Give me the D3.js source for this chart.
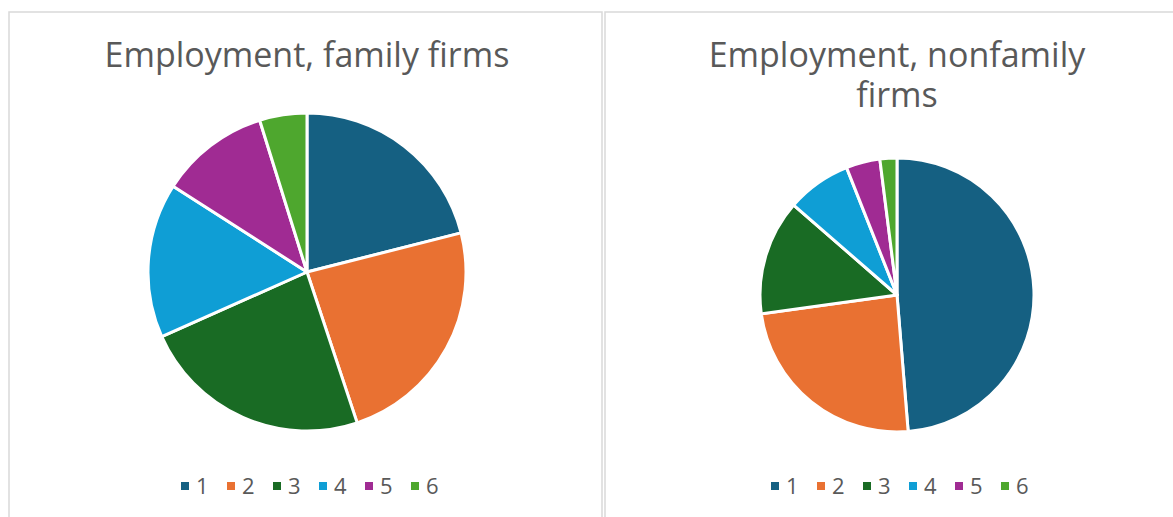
<!DOCTYPE html>
<html>
<head>
<meta charset="utf-8">
<script src="https://cdn.jsdelivr.net/npm/d3@7"></script>
<style>
  body { margin: 0; background: #fff; }
  svg { display: block; font-family: "Open Sans", "Noto Sans", sans-serif; }
</style>
</head>
<body>
<svg width="1173" height="517"></svg>
<script>
// --- data (share of employment, %) ---
const categories = ["1", "2", "3", "4", "5", "6"];
const familyValues = [21.0, 23.8, 23.4, 15.7, 11.1, 4.8];
const nonfamilyValues = [48.7, 24.1, 13.6, 7.6, 4.0, 2.0];
const colors = ["#156082", "#E97132", "#196B24", "#0F9ED5", "#A02B93", "#4EA72E"];

const panels = [
  { title: ["Employment, family firms"], values: familyValues,
    x: 9, cx: 307, cy: 272, r: 159, legendCx: 312 },
  { title: ["Employment, nonfamily", "firms"], values: nonfamilyValues,
    x: 605, cx: 897, cy: 295, r: 137, legendCx: 902 }
];

const svg = d3.select("svg");
const color = d3.scaleOrdinal().domain(categories).range(colors);
const pie = d3.pie().sort(null).value(d => d.value);

panels.forEach(p => {
  const g = svg.append("g");

  // chart area border
  g.append("rect")
    .attr("x", p.x).attr("y", 12)
    .attr("width", 593).attr("height", 530)
    .attr("fill", "#fff")
    .attr("stroke", "#d9d9d9")
    .attr("stroke-width", 1.5);

  // title
  g.append("text")
    .attr("x", p.cx)
    .attr("text-anchor", "middle")
    .attr("fill", "#595959")
    .style("font-size", "34px")
    .selectAll("tspan")
    .data(p.title)
    .join("tspan")
    .attr("x", p.cx)
    .attr("y", (d, i) => 67 + i * 40)
    .text(d => d);

  // slices
  const data = categories.map((c, i) => ({ cat: c, value: p.values[i] }));
  const arc = d3.arc().innerRadius(0).outerRadius(p.r);
  g.append("g")
    .attr("transform", `translate(${p.cx},${p.cy})`)
    .selectAll("path")
    .data(pie(data))
    .join("path")
    .attr("d", arc)
    .attr("fill", d => color(d.data.cat))
    .attr("stroke", "#fff")
    .attr("stroke-width", 3)
    .attr("stroke-linejoin", "round");

  // legend
  const step = 46;
  const lx = d3.scalePoint()
    .domain(categories)
    .range([p.legendCx - step * 2.5, p.legendCx + step * 2.5]);
  const item = g.append("g")
    .selectAll("g")
    .data(categories)
    .join("g")
    .attr("transform", d => `translate(${lx(d) - 12},486)`);
  item.append("rect")
    .attr("x", -4).attr("y", -4)
    .attr("width", 8).attr("height", 8)
    .attr("fill", d => color(d));
  item.append("text")
    .attr("x", 11).attr("y", 8)
    .attr("fill", "#595959")
    .style("font-size", "22px")
    .text(d => d);
});
</script>
</body>
</html>
